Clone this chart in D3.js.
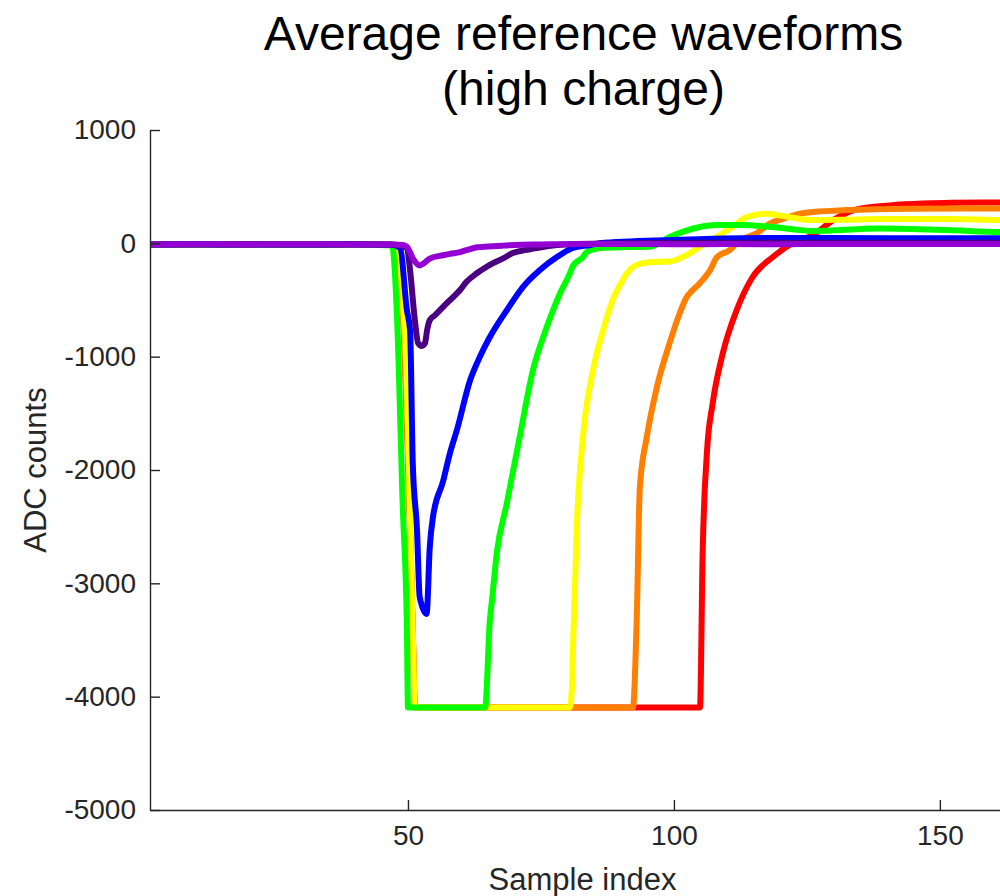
<!DOCTYPE html>
<html>
<head>
<meta charset="utf-8">
<script src="https://cdn.jsdelivr.net/npm/d3@7"></script>
<style>
  html, body { margin: 0; padding: 0; background: #fff; }
  svg { display: block; font-family: "Liberation Sans", Arial, Helvetica, sans-serif; }
</style>
</head>
<body>
<svg id="chart" width="1000" height="896"></svg>
<script>
// ---------------- data (sample index, ADC counts) ----------------
const titleLines = ["Average reference waveforms", "(high charge)"];
const xLabel = "Sample index";
const yLabel = "ADC counts";
const xTickValues = [50, 100, 150];
const yTickValues = [-5000, -4000, -3000, -2000, -1000, 0, 1000];

const seriesNames  = ["red", "orange", "yellow", "green", "blue", "indigo", "violet"];
const seriesColors = ["#ff0000", "#ff8000", "#ffff00", "#00ff00", "#0000ff", "#4b0082", "#9400d3"];

const redWave = [[1,-10],[10,-8],[20,-12],[30,-9],[40,-10],[47,-12],[48,-100],[49,-540],[50.9,-3412],[51.3,-4096],
  [104.9,-4096],[105.4,-2732],[106.2,-1850],[107.3,-1409],[109.2,-968],[111.8,-589],[114.8,-297],[118.6,-121],
  [122.4,3],[126.1,73],[130.3,215],[134.4,300],[140.6,335],[146.8,352],[152,357],[159.4,360],[165,362]];

const orangeWave = [[1,-10],[10,-9],[20,-10],[30,-11],[40,-9],[47,-12],[48,-100],[49,-540],[50.9,-3412],[51.3,-4096],
  [92.3,-4096],[93,-3324],[93.6,-2150],[94.9,-1709],[96.8,-1268],[99.2,-879],[101.1,-615],[102.4,-474],[103,-439],
  [104.9,-350],[106.8,-236],[108.1,-121],[110.5,-59],[111.8,3],[115.6,91],[118.6,188],[119.9,206],[123.7,262],
  [126.1,276],[132.5,294],[144.9,306],[155,308],[165,308]];

const yellowWave = [[1,-10],[10,-11],[20,-9],[30,-10],[40,-11],[47,-12],[48,-100],[49,-540],[49.4,-766],[50.9,-3412],[51.3,-4096],
  [80.4,-4096],[80.8,-3941],[81,-3615],[81.8,-2440],[82.9,-1709],[84.8,-1118],[86.7,-765],[88.5,-500],[90.4,-324],
  [91.2,-262],[93,-191],[96,-165],[99.2,-160],[102.4,-103],[105.4,-15],[108.6,73],[111,144],[113.7,232],[117.5,262],
  [121.2,235],[126.1,205],[132,208],[138.7,214],[151.3,214],[161.3,206],[165,205]];

const greenWave = [[1,-10],[10,-10],[20,-9],[30,-11],[40,-10],[47,-20],[47.9,-600],[49,-2300],[49.8,-3412],[50,-4096],
  [64.5,-4096],[65.4,-3324],[65.8,-3147],[66.7,-2732],[68.6,-2291],[71,-1709],[73.5,-1118],[76.1,-739],[78.6,-440],
  [80.4,-270],[81,-200],[82.9,-121],[83.6,-77],[86.1,-41],[91.2,-33],[95.5,-30],[99.2,56],[104.9,144],[108.1,161],
  [112.4,161],[118.6,144],[123.7,117],[126.1,109],[138.7,130],[151.3,117],[161.3,100],[165,98]];

const blueWave = [[1,-10],[10,-9],[20,-11],[30,-10],[40,-9],[47,-12],[48.5,-40],[49.8,-590],[50.4,-770],[50.9,-1939],
  [51.7,-2530],[52.2,-3120],[53.5,-3270],[54.1,-2680],[54.7,-2415],[56.6,-2100],[57.9,-1850],[59.2,-1647],
  [61.7,-1206],[63.5,-1003],[65.4,-827],[68.6,-589],[71.6,-386],[74.8,-236],[78,-121],[81,-41],[84.2,-15],
  [86,0],[99.8,29],[118.6,47],[140,45],[161,45],[165,45]];

const indigoWave = [[1,-10],[10,-10],[20,-9],[30,-10],[40,-11],[47,-10],[48.5,-20],[49.8,-40],[50.4,-240],[51.3,-680],
  [51.9,-880],[52.6,-905],[53.2,-880],[53.6,-765],[54.1,-677],[55.1,-633],[57.3,-527],[59.8,-412],[61,-340],
  [63,-262],[64.5,-215],[66,-174],[68,-130],[69.7,-86],[72,-60],[74.2,-41],[78,-15],[82,-5],[90,0],[100,5],
  [120,5],[140,5],[165,5]];

const violetWave = [[1,-10],[10,-8],[20,-10],[30,-8],[40,-10],[47,-10],[49,-15],[49.8,-30],[51,-140],[52.2,-195],
  [53,-175],[54.1,-135],[56.6,-105],[58,-92],[59.8,-77],[61,-60],[63,-35],[66,-25],[70,-15],[75,-10],[82,-5],
  [90,-5],[100,-8],[110,-6],[120,-8],[130,-5],[140,-6],[150,-5],[165,-6]];

const seriesData = [redWave, orangeWave, yellowWave, greenWave, blueWave, indigoWave, violetWave];

// ---------------- layout ----------------
const svg = d3.select("#chart");
const plotLeft = 150, plotRight = 1017, plotTop = 130, plotBottom = 810;
const axisColor = "#262626";
const fontTick = 28, fontLabel = 31, fontTitle = 48;

const x = d3.scaleLinear().domain([1.5, 164.5]).range([plotLeft, plotRight]);
const y = d3.scaleLinear().domain([-5000, 1000]).range([plotBottom, plotTop]);

svg.append("rect").attr("width", 1000).attr("height", 896).attr("fill", "#fff");

svg.append("defs").append("clipPath").attr("id", "plotClip")
  .append("rect").attr("x", plotLeft).attr("y", plotTop)
  .attr("width", plotRight - plotLeft).attr("height", plotBottom - plotTop);

// lines
const line = d3.line().x(d => x(d[0])).y(d => y(d[1])).curve(d3.curveMonotoneX);
const gLines = svg.append("g").attr("clip-path", "url(#plotClip)");
seriesData.forEach((data, i) => {
  gLines.append("path")
    .datum(data)
    .attr("d", line)
    .attr("fill", "none")
    .attr("stroke", seriesColors[i])
    .attr("stroke-width", 6)
    .attr("stroke-linejoin", "miter")
    .attr("stroke-miterlimit", 4)
    .attr("class", "series-" + seriesNames[i]);
});

// axes
const fmt = d => String(d);
const xAxis = d3.axisBottom(x).tickValues(xTickValues).tickSizeInner(-10).tickSizeOuter(0).tickPadding(15).tickFormat(fmt);
const yAxis = d3.axisLeft(y).tickValues(yTickValues).tickSizeInner(-10).tickSizeOuter(0).tickPadding(14).tickFormat(fmt);

const gx = svg.append("g").attr("transform", `translate(0,${plotBottom})`).call(xAxis);
const gy = svg.append("g").attr("transform", `translate(${plotLeft},0)`).call(yAxis);

[gx, gy].forEach(g => {
  g.select(".domain").attr("stroke", axisColor).attr("stroke-width", 1.4);
  g.selectAll(".tick line").attr("stroke", axisColor).attr("stroke-width", 1.4);
  g.selectAll(".tick text").attr("fill", axisColor)
    .style("font-size", fontTick + "px")
    .style("font-family", '"Liberation Sans", Arial, Helvetica, sans-serif');
});

// axis labels
svg.append("text")
  .attr("x", (plotLeft + plotRight) / 2 - 1)
  .attr("y", 890)
  .attr("text-anchor", "middle")
  .attr("fill", axisColor)
  .style("font-size", fontLabel + "px")
  .text(xLabel);

svg.append("text")
  .attr("transform", `translate(46,${(plotTop + plotBottom) / 2}) rotate(-90)`)
  .attr("text-anchor", "middle")
  .attr("fill", axisColor)
  .style("font-size", fontLabel + "px")
  .text(yLabel);

// title
const titleX = (plotLeft + plotRight) / 2;
const titleBaselines = [50, 105];
titleLines.forEach((t, i) => {
  svg.append("text")
    .attr("x", titleX)
    .attr("y", titleBaselines[i])
    .attr("text-anchor", "middle")
    .attr("fill", "#000")
    .style("font-size", fontTitle + "px")
    .text(t);
});
</script>
</body>
</html>
